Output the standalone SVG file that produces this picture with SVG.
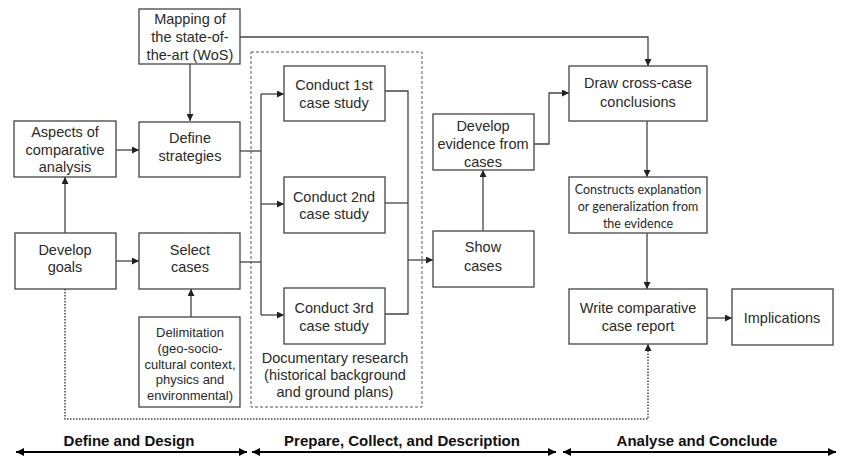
<svg xmlns="http://www.w3.org/2000/svg" width="843" height="457" viewBox="0 0 843 457">
<style>
.box{fill:#fff;stroke:#444;stroke-width:1.3}
.t{font-family:"Liberation Sans",Arial,sans-serif;font-size:14.5px;fill:#2a2a2a;text-anchor:middle}
.ts{font-family:"Liberation Sans",Arial,sans-serif;font-size:13px;fill:#2a2a2a;text-anchor:middle}
.tc{font-family:Lato,"Open Sans",sans-serif;font-size:12.5px;fill:#2a2a2a;text-anchor:middle}
.tb{font-family:"Liberation Sans",Arial,sans-serif;font-size:15px;font-weight:bold;fill:#111;text-anchor:middle}
.c{fill:none;stroke:#444;stroke-width:1.3}
.dot{fill:none;stroke:#444;stroke-width:1.5;stroke-dasharray:1.5,1.5}
.dash{fill:none;stroke:#555;stroke-width:1;stroke-dasharray:3,2}
.ph{fill:none;stroke:#000;stroke-width:2.2}
</style>
<defs>
<marker id="a" viewBox="0 0 10 10" refX="10" refY="5" markerWidth="7" markerHeight="7" markerUnits="userSpaceOnUse" orient="auto"><path d="M0,0L10,5L0,10z" fill="#222"/></marker>
<marker id="b" viewBox="0 0 10 10" refX="10" refY="5" markerWidth="8" markerHeight="8" markerUnits="userSpaceOnUse" orient="auto-start-reverse"><path d="M0,0L10,5L0,10z" fill="#000"/></marker>
</defs>

<rect class="dash" x="251" y="52" width="171" height="355"/>

<g id="connectors">
<path class="c" d="M190,64V121" marker-end="url(#a)"/>
<path class="c" d="M116,150H139" marker-end="url(#a)"/>
<path class="c" d="M65,233V177" marker-end="url(#a)"/>
<path class="c" d="M116,261H139" marker-end="url(#a)"/>
<path class="c" d="M191,317V289" marker-end="url(#a)"/>
<path class="c" d="M240,151H261"/>
<path class="c" d="M240,262H261"/>
<path class="c" d="M261,94V315"/>
<path class="c" d="M261,94H284" marker-end="url(#a)"/>
<path class="c" d="M261,204H284" marker-end="url(#a)"/>
<path class="c" d="M261,315H284" marker-end="url(#a)"/>
<path class="c" d="M385,91H408V314H385"/>
<path class="c" d="M385,203H408"/>
<path class="c" d="M408,260H433" marker-end="url(#a)"/>
<path class="c" d="M483,231V170" marker-end="url(#a)"/>
<path class="c" d="M534,144H549V93H569" marker-end="url(#a)"/>
<path class="c" d="M240,37H648V66" marker-end="url(#a)"/>
<path class="c" d="M647,121V177" marker-end="url(#a)"/>
<path class="c" d="M647,233V289" marker-end="url(#a)"/>
<path class="c" d="M707,318H732" marker-end="url(#a)"/>
<path class="dot" d="M65,289V419H648V344" marker-end="url(#a)"/>
<path class="ph" d="M16,452H247" marker-start="url(#b)" marker-end="url(#b)"/>
<path class="ph" d="M252,452H556" marker-start="url(#b)" marker-end="url(#b)"/>
<path class="ph" d="M563,452H836" marker-start="url(#b)" marker-end="url(#b)"/>
</g>

<g id="mapping"><rect class="box" x="139" y="9" width="101" height="55"/>
<text class="t" x="190" y="24">Mapping of</text><text class="t" x="190" y="42">the state-of-</text><text class="t" x="190" y="60">the-art (WoS)</text></g>
<g id="aspects"><rect class="box" x="14" y="121" width="102" height="56"/>
<text class="t" x="65" y="137">Aspects of</text><text class="t" x="65" y="155">comparative</text><text class="t" x="65" y="172">analysis</text></g>
<g id="define"><rect class="box" x="139" y="122" width="101" height="55"/>
<text class="t" x="190" y="143">Define</text><text class="t" x="190" y="161">strategies</text></g>
<g id="goals"><rect class="box" x="15" y="233" width="101" height="56"/>
<text class="t" x="65" y="255">Develop</text><text class="t" x="65" y="272">goals</text></g>
<g id="select"><rect class="box" x="139" y="233" width="101" height="56"/>
<text class="t" x="190" y="255">Select</text><text class="t" x="190" y="272">cases</text></g>
<g id="delimitation"><rect class="box" x="139" y="317" width="101" height="90"/>
<text class="ts" x="190" y="337">Delimitation</text><text class="ts" x="190" y="353">(geo-socio-</text><text class="ts" x="190" y="369">cultural context,</text><text class="ts" x="190" y="384">physics and</text><text class="ts" x="190" y="400">environmental)</text></g>
<g id="case1"><rect class="box" x="284" y="66" width="101" height="55"/>
<text class="t" x="334" y="90">Conduct 1st</text><text class="t" x="334" y="108">case study</text></g>
<g id="case2"><rect class="box" x="284" y="177" width="101" height="56"/>
<text class="t" x="334" y="202">Conduct 2nd</text><text class="t" x="334" y="219">case study</text></g>
<g id="case3"><rect class="box" x="284" y="288" width="101" height="56"/>
<text class="t" x="334" y="313">Conduct 3rd</text><text class="t" x="334" y="331">case study</text></g>
<g id="documentary">
<text class="t" x="335" y="363">Documentary research</text><text class="t" x="335" y="380">(historical background</text><text class="t" x="335" y="397">and ground plans)</text></g>
<g id="evidence"><rect class="box" x="433" y="114" width="101" height="56"/>
<text class="t" x="483" y="131">Develop</text><text class="t" x="483" y="149">evidence from</text><text class="t" x="483" y="167">cases</text></g>
<g id="show"><rect class="box" x="433" y="231" width="101" height="56"/>
<text class="t" x="483" y="252">Show</text><text class="t" x="483" y="271">cases</text></g>
<g id="draw"><rect class="box" x="569" y="66" width="138" height="55"/>
<text class="t" x="638" y="88">Draw cross-case</text><text class="t" x="638" y="107">conclusions</text></g>
<g id="constructs"><rect class="box" x="569" y="177" width="138" height="56"/>
<text class="tc" x="638" y="194">Constructs explanation</text><text class="tc" x="638" y="211">or generalization from</text><text class="tc" x="638" y="228">the evidence</text></g>
<g id="write"><rect class="box" x="569" y="289" width="138" height="55"/>
<text class="t" x="638" y="313">Write comparative</text><text class="t" x="638" y="331">case report</text></g>
<g id="implications"><rect class="box" x="732" y="289" width="101" height="56"/>
<text class="t" x="782" y="323">Implications</text></g>

<g id="phases">
<text class="tb" x="129" y="446">Define and Design</text>
<text class="tb" x="402" y="446">Prepare, Collect, and Description</text>
<text class="tb" x="697" y="446">Analyse and Conclude</text>
</g>
</svg>
